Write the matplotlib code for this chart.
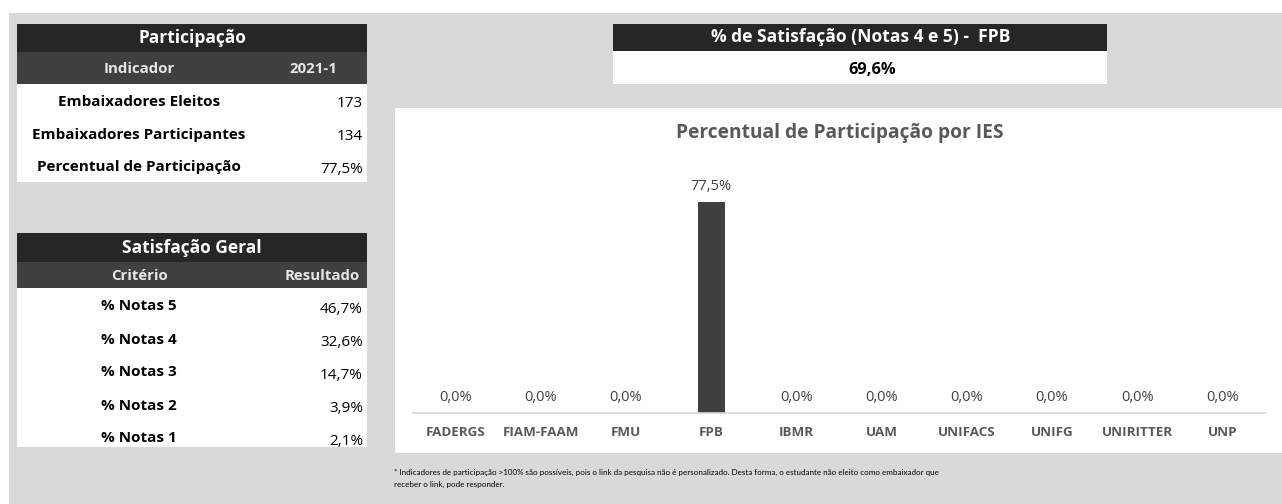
import matplotlib.pyplot as plt
from matplotlib.patches import Rectangle

plt.rcParams['font.family'] = ['Open Sans', 'DejaVu Sans']

# data
part_labels = ['Embaixadores Eleitos', 'Embaixadores Participantes', 'Percentual de Participação']
part_values = ['173', '134', '77,5%']
sat_labels = ['% Notas 5', '% Notas 4', '% Notas 3', '% Notas 2', '% Notas 1']
sat_values = ['46,7%', '32,6%', '14,7%', '3,9%', '2,1%']
sat_total = '69,6%'
ies = ['FADERGS', 'FIAM-FAAM', 'FMU', 'FPB', 'IBMR', 'UAM', 'UNIFACS', 'UNIFG', 'UNIRITTER', 'UNP']
ies_pct = [0.0, 0.0, 0.0, 77.5, 0.0, 0.0, 0.0, 0.0, 0.0, 0.0]

W, H = 1282, 504
fig = plt.figure(figsize=(W / 100, H / 100), dpi=100)

# overlay in pixel coordinates
bg = fig.add_axes([0, 0, 1, 1])
bg.set_xlim(0, W)
bg.set_ylim(H, 0)
bg.axis('off')

def box(x0, y0, x1, y1, color):
    bg.add_patch(Rectangle((x0, y0), x1 - x0, y1 - y0, facecolor=color, edgecolor='none'))

box(9, 13, W, H, '#d9d9d9')

# Participação table
box(17, 24, 367, 52, '#262626')
box(17, 52, 367, 84, '#404040')
box(17, 84, 367, 182, 'white')
bg.text(192, 38, 'Participação', color='white', fontsize=12.5, fontweight='bold', ha='center', va='center')
bg.text(139, 69, 'Indicador', color='#e6e6e6', fontsize=10.8, fontweight='bold', ha='center', va='center')
bg.text(313, 69, '2021-1', color='#e6e6e6', fontsize=10.8, fontweight='bold', ha='center', va='center')
for i, (lab, val) in enumerate(zip(part_labels, part_values)):
    y = 101.5 + i * 33
    bg.text(139, y, lab, color='black', fontsize=11, fontweight='bold', ha='center', va='center')
    bg.text(363, y + 2, val, color='black', fontsize=11, ha='right', va='center')

# Satisfação Geral table
box(17, 233, 367, 262, '#262626')
box(17, 262, 367, 288, '#404040')
box(17, 288, 367, 447, 'white')
bg.text(192, 248, 'Satisfação Geral', color='white', fontsize=12.5, fontweight='bold', ha='center', va='center')
bg.text(139, 276, 'Critério', color='#e6e6e6', fontsize=10.8, fontweight='bold', ha='center', va='center')
bg.text(322, 276, 'Resultado', color='#e6e6e6', fontsize=10.8, fontweight='bold', ha='center', va='center')
for i, (lab, val) in enumerate(zip(sat_labels, sat_values)):
    y = 306.5 + i * 33
    bg.text(139, y, lab, color='black', fontsize=11, fontweight='bold', ha='center', va='center')
    bg.text(363, y + 3, val, color='black', fontsize=11, ha='right', va='center')

# satisfaction box top right
box(613, 24, 1107, 51, '#262626')
box(613, 51, 1107, 84, 'white')
bg.text(861, 37, '% de Satisfação (Notas 4 e 5) -  FPB', color='white', fontsize=12.6, fontweight='bold', ha='center', va='center')
bg.text(872, 70, sat_total, color='black', fontsize=11.8, fontweight='bold', ha='center', va='center')

# chart panel
box(395, 108, W, 453, 'white')
bg.text(840, 133, 'Percentual de Participação por IES', color='#595959', fontsize=13.8, fontweight='bold', ha='center', va='center')

bg.text(394, 472, '* Indicadores de participação >100% são possíveis, pois o link da pesquisa não é personalizado. '
        'Desta forma, o estudante não eleito como embaixador que', color='black', fontsize=5.8,
        family=['Lato', 'DejaVu Sans'], ha='left', va='center')
bg.text(394, 484, 'receber o link, pode responder.', color='black', fontsize=5.8,
        family=['Lato', 'DejaVu Sans'], ha='left', va='center')

# bar chart axes
ax_l, ax_r, ax_t, ax_b = 413, 1265, 160, 413
ax = fig.add_axes([ax_l / W, 1 - ax_b / H, (ax_r - ax_l) / W, (ax_b - ax_t) / H])
ax.patch.set_alpha(0)
x = range(len(ies))
bars = ax.bar(x, ies_pct, width=0.32, color='#404040')
ax.set_xlim(-0.5, len(ies) - 0.5)
ax.set_ylim(0, 93)
for xi, v in zip(x, ies_pct):
    ax.text(xi, v + 3, f'{v:.1f}%'.replace('.', ','), ha='center', va='bottom', fontsize=10.5, color='#404040')
ax.set_xticks(list(x))
ax.set_xticklabels(ies, fontsize=9.6, fontweight='bold', color='#595959')
ax.tick_params(axis='x', length=0, pad=9)
ax.set_yticks([])
for s in ['top', 'right', 'left']:
    ax.spines[s].set_visible(False)
ax.spines['bottom'].set_color('#d9d9d9')
ax.spines['bottom'].set_linewidth(1.2)

fig.savefig('out.png', dpi=100)
